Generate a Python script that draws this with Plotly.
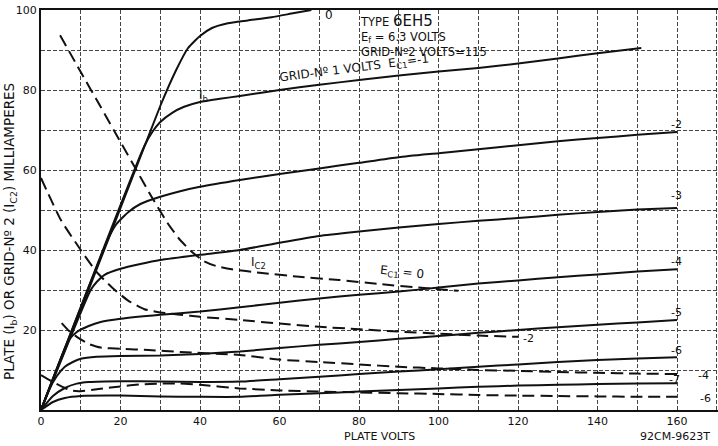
import plotly.graph_objects as go

# ---------------- data (plate volts, milliamperes) ----------------
# Plate current Ib curves, one per grid-No.1 voltage
ib_0_v = [0, 10, 20, 30, 34, 37, 40, 43, 47, 52, 58, 63, 68]
ib_0_i = [0, 25, 50.5, 76, 85, 90.5, 93.5, 95.5, 96.7, 97.4, 98.2, 99.1, 100]

ib_m1_v = [0, 26, 28, 30, 33, 36, 40, 45, 50, 60, 70, 80, 90, 100, 110, 120, 130, 140, 151]
ib_m1_i = [0, 66, 69.5, 72, 74.3, 75.8, 77, 77.8, 78.5, 80, 81.3, 82.5, 83.6, 84.6, 85.5, 86.6, 87.9, 89.2, 90.5]

ib_m2_v = [0, 17, 19, 22, 25, 30, 35, 40, 50, 60, 70, 80, 90, 100, 110, 120, 130, 140, 150, 160]
ib_m2_i = [0, 43, 46.5, 49.5, 51.5, 53.3, 54.7, 55.8, 57.5, 59, 60.4, 61.8, 63.2, 64.2, 65.2, 66.2, 67.2, 68, 68.8, 69.5]

ib_m3_v = [0, 12.5, 14, 16, 20, 25, 30, 40, 50, 60, 70, 80, 90, 100, 110, 120, 130, 140, 150, 160]
ib_m3_i = [0, 30, 32, 33.8, 35.3, 36.5, 37.5, 38.8, 40, 41.8, 43.5, 44.6, 45.6, 46.5, 47.3, 48, 48.8, 49.5, 50.1, 50.5]

ib_m4_v = [0, 7, 9, 12, 15, 20, 30, 40, 50, 60, 70, 80, 90, 100, 110, 120, 130, 140, 150, 160]
ib_m4_i = [0, 17.5, 19.5, 21, 22, 22.8, 23.8, 24.6, 25.7, 26.8, 27.9, 28.8, 29.6, 30.6, 31.6, 32.4, 33.2, 33.9, 34.6, 35.2]

ib_m5_v = [0, 2, 4, 6, 8, 10, 14, 20, 30, 40, 50, 60, 70, 80, 90, 100, 110, 120, 130, 140, 150, 160]
ib_m5_i = [0, 5, 8.5, 10.8, 12, 12.8, 13.3, 13.5, 13.6, 14, 14.6, 15.5, 16.3, 17, 17.8, 18.5, 19.3, 20, 20.7, 21.3, 21.9, 22.5]

ib_m6_v = [0, 3, 6, 9, 12, 20, 30, 40, 50, 60, 70, 80, 90, 100, 110, 120, 130, 140, 150, 160]
ib_m6_i = [0, 3.5, 5.5, 6.6, 7, 7.2, 7.1, 7, 7.1, 7.7, 8.3, 9, 9.6, 10.2, 10.8, 11.4, 12, 12.5, 12.9, 13.2]

ib_m7_v = [0, 3, 6, 10, 20, 30, 40, 50, 60, 70, 80, 90, 100, 110, 120, 130, 140, 150, 160]
ib_m7_i = [0, 2, 3, 3.5, 3.6, 3.4, 3.3, 3.3, 3.8, 4.2, 4.6, 5, 5.4, 5.8, 6.1, 6.3, 6.5, 6.6, 6.7]

# Grid-No.2 current Ic2 curves
ic2_0_v = [4.8, 10, 15, 20, 24, 28, 32, 35, 38, 41, 44, 48, 55, 65, 75, 85, 95, 105]
ic2_0_i = [93.7, 84.5, 75.8, 67, 60, 53, 46.5, 42.5, 39.5, 37.2, 36, 35.2, 34.3, 33.3, 32.5, 31.5, 30.6, 29.8]

ic2_m2_v = [0, 5, 10, 14, 18, 22, 26, 30, 35, 40, 50, 60, 70, 80, 90, 100, 110, 120]
ic2_m2_i = [58, 47.5, 40, 34.5, 30.5, 27.3, 25.2, 24.4, 23.8, 23.3, 22.5, 21.6, 20.8, 20.2, 19.6, 19.1, 18.6, 18.3]

ic2_m4_v = [5.2, 7, 9, 12, 15, 20, 27, 35, 50, 60, 70, 80, 90, 100, 110, 120, 130, 140, 150, 160]
ic2_m4_i = [21.7, 19.8, 18.3, 16.5, 15.6, 15.3, 15, 14.5, 13.75, 12.6, 12, 11.4, 10.8, 10.4, 10, 9.8, 9.5, 9.3, 9.1, 9]

ic2_m6_v = [0, 3, 6, 8, 10, 15, 20, 25, 30, 35, 40, 50, 60, 70, 80, 90, 100, 110, 120, 130, 140, 150, 160]
ic2_m6_i = [8.75, 7, 5.5, 4.8, 4.7, 5.3, 5.9, 6.4, 6.6, 6.6, 6.3, 5.4, 4.9, 4.6, 4.4, 4.2, 4, 3.75, 3.6, 3.5, 3.4, 3.3, 3.3]

x_tick_vals = [0, 20, 40, 60, 80, 100, 120, 140, 160]
x_tick_text = ["0", "20", "40", "60", "80", "100", "120", "140", "160"]
y_tick_vals = [20, 40, 60, 80, 100]
y_tick_text = ["20", "40", "60", "80", "100"]

# ---------------- figure ----------------
INK = "#111111"
FONT = "DejaVu Sans"
L, R, T, B, W, H = 41, 0, 10, 36, 718, 446
PW, PH = W - L - R, H - T - B

solid_curves = [
    (ib_0_v, ib_0_i), (ib_m1_v, ib_m1_i), (ib_m2_v, ib_m2_i), (ib_m3_v, ib_m3_i),
    (ib_m4_v, ib_m4_i), (ib_m5_v, ib_m5_i), (ib_m6_v, ib_m6_i), (ib_m7_v, ib_m7_i),
]
dashed_curves = [
    (ic2_0_v, ic2_0_i), (ic2_m2_v, ic2_m2_i), (ic2_m4_v, ic2_m4_i), (ic2_m6_v, ic2_m6_i),
]

fig = go.Figure()
for xs, ys in solid_curves:
    fig.add_trace(go.Scatter(x=xs, y=ys, mode="lines",
                             line=dict(color=INK, width=2, shape="spline", smoothing=0.5),
                             hoverinfo="skip", showlegend=False))
for xs, ys in dashed_curves:
    fig.add_trace(go.Scatter(x=xs, y=ys, mode="lines",
                             line=dict(color=INK, width=2, dash="12px,6px", shape="spline", smoothing=0.5),
                             hoverinfo="skip", showlegend=False))

def px_to_data(px, py):
    return (px - 41) / 3.975, (410 - py) / 4.0

def label(text, px, py, size=11, xanchor="center", yanchor="middle", angle=0, align="center"):
    x, y = px_to_data(px, py)
    fig.add_annotation(x=x, y=y, xref="x", yref="y", text=text, showarrow=False,
                       xanchor=xanchor, yanchor=yanchor, textangle=angle, align=align,
                       font=dict(family=FONT, size=size, color=INK))

def paper_label(text, px, py, size=10, angle=0):
    fig.add_annotation(x=(px - L) / PW, y=(H - B - py) / PH, xref="paper", yref="paper",
                       text=text, showarrow=False, xanchor="center", yanchor="middle",
                       textangle=angle, font=dict(family=FONT, size=size, color=INK))

label("0", 329, 15, 12)
label("TYPE <span style='font-size:15px'>6EH5</span><br>"
      "E<sub>f</sub> = 6.3 VOLTS<br>GRID-N\u00ba2 VOLTS=115",
      358, 10, 11.5, xanchor="left", yanchor="top", align="left")
label("GRID-N\u00ba 1 VOLTS  E<sub>C1</sub>=-1", 354, 69, 12, angle=-7.3)
label("I<sub>b</sub>", 203, 96, 12)
label("-2", 676, 124, 11)
label("-3", 676, 195, 11)
label("-4", 676, 261, 11)
label("-5", 676, 312, 11)
label("-6", 676, 350, 11)
label("-7", 674, 379, 11)
label("I<sub>C2</sub>", 258, 263, 12)
label("E<sub>C1</sub> = 0", 402, 273, 12, angle=6)
label("-2", 528, 338, 11)
label("-4", 703, 375, 11)
label("-6", 705, 398, 11)

paper_label("PLATE VOLTS", 379, 437, 11)
paper_label("92CM-9623T", 675, 437, 11)
paper_label("PLATE (I<sub>b</sub>) OR GRID-N\u00ba 2 (I<sub>C2</sub>) MILLIAMPERES", 10, 232, 13.5, angle=-90)

fig.update_layout(
    width=W, height=H,
    margin=dict(l=L, r=R, t=T, b=B, autoexpand=False),
    paper_bgcolor="white", plot_bgcolor="white",
    font=dict(family=FONT, size=11, color=INK),
)

grid_style = dict(showgrid=True, gridcolor="#444", gridwidth=1, griddash="4px,2px")
fig.update_xaxes(range=[0, 170.3], tickvals=x_tick_vals, ticktext=x_tick_text,
                 minor=dict(dtick=10, tick0=0, **grid_style), **grid_style,
                 showline=True, linecolor=INK, linewidth=2, mirror=True, zeroline=False, ticks="",
                 automargin=False, tickfont=dict(family=FONT, size=11, color=INK))
fig.update_yaxes(range=[0, 100], tickvals=y_tick_vals, ticktext=y_tick_text,
                 minor=dict(dtick=10, tick0=0, **grid_style), **grid_style,
                 showline=True, linecolor=INK, linewidth=2, mirror=True, zeroline=False, ticks="",
                 automargin=False, tickfont=dict(family=FONT, size=11, color=INK))

fig.write_html("out.html", config={"displayModeBar": False},
               post_script="document.body.style.margin='0';")
